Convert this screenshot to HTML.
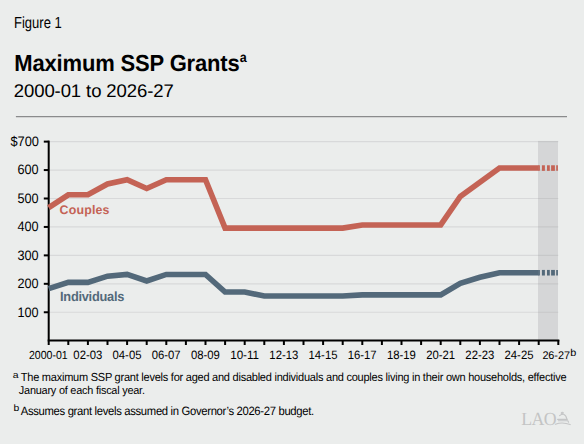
<!DOCTYPE html>
<html><head><meta charset="utf-8">
<style>
html,body{margin:0;padding:0;}
body{width:584px;height:444px;background:#ebedec;position:relative;overflow:hidden;text-rendering:geometricPrecision;font-family:"Liberation Sans",sans-serif;color:#000;}
.t{position:absolute;white-space:nowrap;transform-origin:0 0;}
.yl{text-align:right;}
.xl{text-align:center;}
svg{position:absolute;left:0;top:0;}
</style></head><body>
<svg width="584" height="444" viewBox="0 0 584 444">
<line x1="48.70" y1="312.26" x2="558.30" y2="312.26" stroke="#d8d9da" stroke-width="1.2"/>
<line x1="48.70" y1="283.82" x2="558.30" y2="283.82" stroke="#d8d9da" stroke-width="1.2"/>
<line x1="48.70" y1="255.38" x2="558.30" y2="255.38" stroke="#d8d9da" stroke-width="1.2"/>
<line x1="48.70" y1="226.94" x2="558.30" y2="226.94" stroke="#d8d9da" stroke-width="1.2"/>
<line x1="48.70" y1="198.50" x2="558.30" y2="198.50" stroke="#d8d9da" stroke-width="1.2"/>
<line x1="48.70" y1="170.06" x2="558.30" y2="170.06" stroke="#d8d9da" stroke-width="1.2"/>
<line x1="48.70" y1="141.62" x2="558.30" y2="141.62" stroke="#d8d9da" stroke-width="1.2"/>
<rect x="538.0" y="140.92" width="20.0" height="199.63" fill="rgb(150,150,156)" fill-opacity="0.26"/>
<line x1="48.70" y1="140.62" x2="48.70" y2="345" stroke="#000" stroke-width="2"/>
<line x1="47.70" y1="340.55" x2="559.30" y2="340.55" stroke="#000" stroke-width="2"/>
<line x1="43.8" y1="312.26" x2="48.70" y2="312.26" stroke="#000" stroke-width="2"/>
<line x1="43.8" y1="283.82" x2="48.70" y2="283.82" stroke="#000" stroke-width="2"/>
<line x1="43.8" y1="255.38" x2="48.70" y2="255.38" stroke="#000" stroke-width="2"/>
<line x1="43.8" y1="226.94" x2="48.70" y2="226.94" stroke="#000" stroke-width="2"/>
<line x1="43.8" y1="198.50" x2="48.70" y2="198.50" stroke="#000" stroke-width="2"/>
<line x1="43.8" y1="170.06" x2="48.70" y2="170.06" stroke="#000" stroke-width="2"/>
<line x1="43.8" y1="141.62" x2="48.70" y2="141.62" stroke="#000" stroke-width="2"/>
<line x1="68.30" y1="340" x2="68.30" y2="345" stroke="#000" stroke-width="2"/>
<line x1="87.90" y1="340" x2="87.90" y2="345" stroke="#000" stroke-width="2"/>
<line x1="107.50" y1="340" x2="107.50" y2="345" stroke="#000" stroke-width="2"/>
<line x1="127.10" y1="340" x2="127.10" y2="345" stroke="#000" stroke-width="2"/>
<line x1="146.70" y1="340" x2="146.70" y2="345" stroke="#000" stroke-width="2"/>
<line x1="166.30" y1="340" x2="166.30" y2="345" stroke="#000" stroke-width="2"/>
<line x1="185.90" y1="340" x2="185.90" y2="345" stroke="#000" stroke-width="2"/>
<line x1="205.50" y1="340" x2="205.50" y2="345" stroke="#000" stroke-width="2"/>
<line x1="225.10" y1="340" x2="225.10" y2="345" stroke="#000" stroke-width="2"/>
<line x1="244.70" y1="340" x2="244.70" y2="345" stroke="#000" stroke-width="2"/>
<line x1="264.30" y1="340" x2="264.30" y2="345" stroke="#000" stroke-width="2"/>
<line x1="283.90" y1="340" x2="283.90" y2="345" stroke="#000" stroke-width="2"/>
<line x1="303.50" y1="340" x2="303.50" y2="345" stroke="#000" stroke-width="2"/>
<line x1="323.10" y1="340" x2="323.10" y2="345" stroke="#000" stroke-width="2"/>
<line x1="342.70" y1="340" x2="342.70" y2="345" stroke="#000" stroke-width="2"/>
<line x1="362.30" y1="340" x2="362.30" y2="345" stroke="#000" stroke-width="2"/>
<line x1="381.90" y1="340" x2="381.90" y2="345" stroke="#000" stroke-width="2"/>
<line x1="401.50" y1="340" x2="401.50" y2="345" stroke="#000" stroke-width="2"/>
<line x1="421.10" y1="340" x2="421.10" y2="345" stroke="#000" stroke-width="2"/>
<line x1="440.70" y1="340" x2="440.70" y2="345" stroke="#000" stroke-width="2"/>
<line x1="460.30" y1="340" x2="460.30" y2="345" stroke="#000" stroke-width="2"/>
<line x1="479.90" y1="340" x2="479.90" y2="345" stroke="#000" stroke-width="2"/>
<line x1="499.50" y1="340" x2="499.50" y2="345" stroke="#000" stroke-width="2"/>
<line x1="519.10" y1="340" x2="519.10" y2="345" stroke="#000" stroke-width="2"/>
<line x1="538.70" y1="340" x2="538.70" y2="345" stroke="#000" stroke-width="2"/>
<line x1="558.30" y1="340" x2="558.30" y2="345" stroke="#000" stroke-width="2"/>
<polyline points="48.70,207.60 68.30,194.80 87.90,194.80 107.50,184.00 127.10,179.73 146.70,188.55 166.30,179.73 185.90,179.73 205.50,179.73 225.10,228.08 244.70,228.08 264.30,228.08 283.90,228.08 303.50,228.08 323.10,228.08 342.70,228.08 362.30,224.95 381.90,224.95 401.50,224.95 421.10,224.95 440.70,224.95 460.30,196.51 479.90,182.29 499.50,168.07 519.10,168.07 538.70,168.07" fill="none" stroke="#c46355" stroke-width="5.6" stroke-linejoin="miter"/>
<polyline points="48.70,288.65 68.30,282.40 87.90,282.40 107.50,276.14 127.10,274.43 146.70,280.98 166.30,274.43 185.90,274.43 205.50,274.43 225.10,292.07 244.70,292.07 264.30,296.05 283.90,296.05 303.50,296.05 323.10,296.05 342.70,296.05 362.30,294.91 381.90,294.91 401.50,294.91 421.10,294.91 440.70,294.91 460.30,283.25 479.90,277.28 499.50,272.73 519.10,272.73 538.70,272.73" fill="none" stroke="#53697a" stroke-width="5.6" stroke-linejoin="miter"/>
<line x1="538.2" y1="168.07" x2="539.9" y2="168.07" stroke="#c46355" stroke-width="5.6"/>
<line x1="541.9" y1="168.07" x2="544.9" y2="168.07" stroke="#c46355" stroke-width="5.6"/>
<line x1="547.0" y1="168.07" x2="549.8" y2="168.07" stroke="#c46355" stroke-width="5.6"/>
<line x1="551.1" y1="168.07" x2="554.9" y2="168.07" stroke="#c46355" stroke-width="5.6"/>
<line x1="556.2" y1="168.07" x2="557.9" y2="168.07" stroke="#c46355" stroke-width="5.6"/>
<line x1="538.2" y1="272.73" x2="539.9" y2="272.73" stroke="#53697a" stroke-width="5.6"/>
<line x1="541.9" y1="272.73" x2="544.9" y2="272.73" stroke="#53697a" stroke-width="5.6"/>
<line x1="547.0" y1="272.73" x2="549.8" y2="272.73" stroke="#53697a" stroke-width="5.6"/>
<line x1="551.1" y1="272.73" x2="554.9" y2="272.73" stroke="#53697a" stroke-width="5.6"/>
<line x1="556.2" y1="272.73" x2="557.9" y2="272.73" stroke="#53697a" stroke-width="5.6"/>
<g fill="none" stroke="#c4c5c6" stroke-width="1.1" stroke-linecap="round"><path d="M561.2,413.1 Q562.4,411.6 563.3,412.9 Q563.0,413.7 561.9,413.9"/><path d="M559.6,415.6 Q561.5,414.2 563.6,414.3 Q566.0,415.2 566.9,419.2"/><path d="M557.6,419.4 L567.2,419.4"/><path d="M558.4,420.7 L567.8,420.7 L568.6,422.2"/><path d="M555.4,424.2 Q562.5,421.6 570.2,424.6"/></g>
<line x1="15.9" y1="116.5" x2="567" y2="116.5" stroke="#8a8b8c" stroke-width="1.25"/>
</svg>

<svg width="584" height="444" viewBox="0 0 584 444" style="text-rendering:geometricPrecision">
<text x="14.01" y="28.19" font-family="Liberation Sans" font-weight="normal" fill="#000" font-size="16.08" letter-spacing="-0.000" textLength="47.74" lengthAdjust="spacingAndGlyphs">Figure 1</text>
<text x="14.29" y="71.00" font-family="Liberation Sans" font-weight="bold" fill="#000" font-size="23.19" letter-spacing="-0.171" textLength="225.30" lengthAdjust="spacingAndGlyphs">Maximum SSP Grants</text>
<text x="239.79" y="62.06" font-family="Liberation Sans" font-weight="bold" fill="#000" font-size="13.74" letter-spacing="0.000" textLength="6.99" lengthAdjust="spacingAndGlyphs">a</text>
<text x="13.80" y="97.23" font-family="Liberation Sans" font-weight="normal" fill="#000" font-size="18.33" letter-spacing="-0.101" textLength="159.83" lengthAdjust="spacingAndGlyphs">2000-01 to 2026-27</text>
<text x="59.58" y="213.87" font-family="Liberation Sans" font-weight="bold" fill="#c46355" font-size="12.50" letter-spacing="0.157" textLength="50.05" lengthAdjust="spacingAndGlyphs">Couples</text>
<text x="60.03" y="301.26" font-family="Liberation Sans" font-weight="bold" fill="#53697a" font-size="13.37" letter-spacing="-0.262" textLength="64.09" lengthAdjust="spacingAndGlyphs">Individuals</text>
<text x="12.84" y="378.10" font-family="Liberation Sans" font-weight="normal" fill="#000" font-size="9.32" letter-spacing="0.000" textLength="5.79" lengthAdjust="spacingAndGlyphs">a</text>
<text x="20.81" y="381.29" font-family="Liberation Sans" font-weight="normal" fill="#000" font-size="11.74" letter-spacing="-0.259" textLength="545.53" lengthAdjust="spacingAndGlyphs">The maximum SSP grant levels for aged and disabled individuals and couples living in their own households, effective</text>
<text x="18.86" y="394.09" font-family="Liberation Sans" font-weight="normal" fill="#000" font-size="11.35" letter-spacing="-0.231" textLength="125.87" lengthAdjust="spacingAndGlyphs">January of each fiscal year.</text>
<text x="13.40" y="411.48" font-family="Liberation Sans" font-weight="normal" fill="#000" font-size="9.40" letter-spacing="0.000" textLength="5.75" lengthAdjust="spacingAndGlyphs">b</text>
<text x="20.69" y="414.58" font-family="Liberation Sans" font-weight="normal" fill="#000" font-size="12.05" letter-spacing="-0.344" textLength="293.17" lengthAdjust="spacingAndGlyphs">Assumes grant levels assumed in Governor&#8217;s 2026-27 budget.</text>
<text x="521.19" y="424.84" font-family="Liberation Serif" font-weight="normal" fill="#c3c4c4" font-size="18.50" letter-spacing="-0.582" textLength="34.85" lengthAdjust="spacingAndGlyphs">LAO</text>
<text x="542.40" y="359.37" font-family="Liberation Sans" font-weight="normal" fill="#000" font-size="11.09" letter-spacing="-0.076" textLength="27.49" lengthAdjust="spacingAndGlyphs">26-27</text>
<text x="570.36" y="356.16" font-family="Liberation Sans" font-weight="normal" fill="#000" font-size="10.20" letter-spacing="0.000" textLength="6.03" lengthAdjust="spacingAndGlyphs">b</text>
<text x="17.40" y="316.63" font-family="Liberation Sans" font-size="13.76" textLength="21.15" lengthAdjust="spacingAndGlyphs">100</text>
<text x="17.40" y="288.19" font-family="Liberation Sans" font-size="13.76" textLength="21.15" lengthAdjust="spacingAndGlyphs">200</text>
<text x="17.40" y="259.75" font-family="Liberation Sans" font-size="13.76" textLength="21.15" lengthAdjust="spacingAndGlyphs">300</text>
<text x="17.40" y="231.31" font-family="Liberation Sans" font-size="13.76" textLength="21.15" lengthAdjust="spacingAndGlyphs">400</text>
<text x="17.40" y="202.87" font-family="Liberation Sans" font-size="13.76" textLength="21.15" lengthAdjust="spacingAndGlyphs">500</text>
<text x="17.40" y="174.43" font-family="Liberation Sans" font-size="13.76" textLength="21.15" lengthAdjust="spacingAndGlyphs">600</text>
<text x="10.38" y="145.99" font-family="Liberation Sans" font-size="13.76" textLength="28.62" lengthAdjust="spacingAndGlyphs">$700</text>
<text x="28.99" y="358.91" font-family="Liberation Sans" font-size="11.72" textLength="38.72" lengthAdjust="spacingAndGlyphs">2000-01</text>
<text x="73.36" y="359.31" font-family="Liberation Sans" font-size="12.16" textLength="28.91" lengthAdjust="spacingAndGlyphs">02-03</text>
<text x="112.56" y="359.31" font-family="Liberation Sans" font-size="12.16" textLength="28.91" lengthAdjust="spacingAndGlyphs">04-05</text>
<text x="151.76" y="359.31" font-family="Liberation Sans" font-size="12.16" textLength="28.91" lengthAdjust="spacingAndGlyphs">06-07</text>
<text x="190.96" y="359.31" font-family="Liberation Sans" font-size="12.16" textLength="28.91" lengthAdjust="spacingAndGlyphs">08-09</text>
<text x="230.16" y="359.31" font-family="Liberation Sans" font-size="12.16" textLength="28.91" lengthAdjust="spacingAndGlyphs">10-11</text>
<text x="269.36" y="359.31" font-family="Liberation Sans" font-size="12.16" textLength="28.91" lengthAdjust="spacingAndGlyphs">12-13</text>
<text x="308.56" y="359.31" font-family="Liberation Sans" font-size="12.16" textLength="28.91" lengthAdjust="spacingAndGlyphs">14-15</text>
<text x="347.76" y="359.31" font-family="Liberation Sans" font-size="12.16" textLength="28.91" lengthAdjust="spacingAndGlyphs">16-17</text>
<text x="386.96" y="359.31" font-family="Liberation Sans" font-size="12.16" textLength="28.91" lengthAdjust="spacingAndGlyphs">18-19</text>
<text x="426.16" y="359.31" font-family="Liberation Sans" font-size="12.16" textLength="28.91" lengthAdjust="spacingAndGlyphs">20-21</text>
<text x="465.36" y="359.31" font-family="Liberation Sans" font-size="12.16" textLength="28.91" lengthAdjust="spacingAndGlyphs">22-23</text>
<text x="504.56" y="359.31" font-family="Liberation Sans" font-size="12.16" textLength="28.91" lengthAdjust="spacingAndGlyphs">24-25</text>
</svg>
</body></html>
